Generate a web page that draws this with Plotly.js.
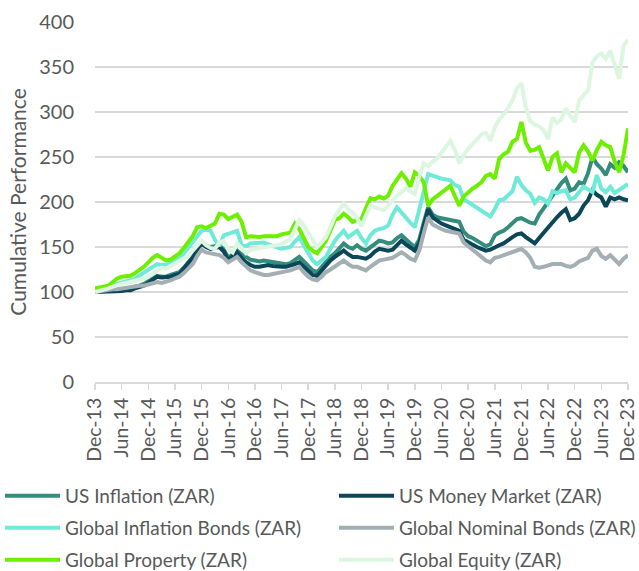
<!DOCTYPE html>
<html>
<head>
<meta charset="utf-8">
<script src="https://cdn.plot.ly/plotly-3.0.1.min.js"></script>
<style>html,body{margin:0;padding:0;background:#fff;}#chart{width:639px;height:571px;}</style>
</head>
<body>
<div id="chart"></div>
<script>
// Monthly categories Dec-13 .. Dec-23
var monthNames = ["Jan","Feb","Mar","Apr","May","Jun","Jul","Aug","Sep","Oct","Nov","Dec"];
var months = [];
for (var i = 0; i <= 120; i++) {
  var mi = (11 + i) % 12;
  var yr = 13 + Math.floor((11 + i) / 12);
  months.push(monthNames[mi] + "-" + yr);
}
var tickLabels = ["Dec-13","Jun-14","Dec-14","Jun-15","Dec-15","Jun-16","Dec-16","Jun-17","Dec-17","Jun-18","Dec-18","Jun-19","Dec-19","Jun-20","Dec-20","Jun-21","Dec-21","Jun-22","Dec-22","Jun-23","Dec-23"];

var usInflation = [100,101,101,101,102,102,103,103,104,105,107,109,112,116,118,117,117,119,121,122,127,133,139,148,155,151,150,151,152,147,138,142,146,142,139,136,135,134,135,134,133,132,131,131,132,136,139,134,129,124,122,128,134,139,143,148,154,150,148,152,148,146,150,154,157,156,154,155,160,163,158,154,150,158,177,194,186,183,182,181,180,179,178,167,162,160,157,155,151,153,163,166,168,172,176,181,182,179,177,176,186,193,200,208,215,221,226,213,215,222,220,232,250,242,237,230,242,238,244,240,233];
var usMoneyMarket = [100,100,100,100,101,101,101,102,102,104,105,107,110,114,117,116,116,117,119,120,126,132,138,146,154,150,148,149,150,145,135,140,144,138,133,130,128,128,129,130,129,128,128,128,129,131,133,128,123,119,118,124,130,135,139,143,146,142,139,139,138,137,140,145,148,147,146,147,152,157,153,149,146,154,173,192,183,179,176,174,172,170,168,158,155,153,150,148,146,147,150,152,154,158,161,164,165,161,157,154,160,166,172,178,183,188,192,180,182,187,196,202,213,208,205,195,205,203,205,203,202];
var globalInflationBonds = [100,103,104,105,107,109,110,112,113,115,118,121,125,128,131,130,130,133,136,138,143,149,155,162,168,169,168,158,151,163,165,166,168,152,151,154,154,155,155,153,151,149,148,149,150,156,161,152,143,135,131,135,139,148,157,163,168,161,164,168,160,154,163,168,170,171,174,186,194,188,183,177,172,190,211,231,229,227,226,225,224,219,217,203,200,197,194,191,188,184,192,202,203,207,212,228,219,213,209,199,205,203,198,212,210,212,213,203,205,211,217,214,211,230,215,211,217,210,213,217,220];
var globalNominalBonds = [100,101,101,102,103,103,104,105,105,106,107,107,108,110,111,110,111,113,115,117,121,126,131,140,147,144,143,142,141,138,133,136,139,133,128,124,122,120,119,119,120,120,121,122,124,126,128,122,117,114,113,117,122,125,128,132,135,131,128,128,126,124,128,132,135,136,137,138,141,144,141,137,135,146,165,183,175,172,170,168,167,166,165,155,151,148,143,139,135,133,138,139,141,143,145,147,148,144,138,128,127,128,130,131,131,131,129,128,130,134,136,138,146,148,140,137,141,136,131,137,141];
var globalProperty = [104,105,106,107,111,115,117,118,118,121,124,128,133,138,141,138,135,136,139,143,149,155,162,172,173,171,174,176,187,186,181,183,186,178,161,162,161,161,162,162,163,162,164,165,166,176,170,160,150,146,143,150,157,168,180,182,187,183,178,180,181,193,204,203,206,204,207,218,226,232,226,217,233,229,222,196,203,207,211,214,218,207,196,206,211,215,218,222,229,231,226,248,253,256,267,270,289,266,257,258,261,248,235,250,254,233,243,238,233,255,263,256,246,258,267,263,261,245,233,252,282];
var globalEquity = [100,101,102,104,106,108,109,110,111,112,114,115,117,120,124,127,126,129,132,134,137,140,146,152,157,152,149,148,155,157,148,144,154,149,143,147,148,148,150,150,151,152,153,156,159,170,180,174,166,156,150,155,161,172,184,191,198,192,188,182,173,185,196,194,192,191,196,202,207,211,215,212,209,228,243,240,245,248,255,262,268,258,243,252,259,264,270,275,277,268,283,292,297,305,313,326,332,305,290,286,284,280,270,294,288,292,304,296,289,313,318,324,355,362,365,359,368,352,337,374,380];

var seriesNames = ["US Inflation (ZAR)","US Money Market (ZAR)","Global Inflation Bonds (ZAR)","Global Nominal Bonds (ZAR)","Global Property (ZAR)","Global Equity (ZAR)"];
var seriesData = [usInflation, usMoneyMarket, globalInflationBonds, globalNominalBonds, globalProperty, globalEquity];
var seriesColors = ["#348C7D","#0B4659","#6FEAD9","#A3AFB2","#6CF000","#DCF6E1"];
var legendIds = ["legend","legend2","legend3","legend4","legend5","legend6"];

var traces = seriesData.map(function(d, k) {
  return {
    x: months, y: d, name: seriesNames[k], type: "scatter", mode: "lines",
    legend: legendIds[k],
    line: {color: seriesColors[k], width: 4, shape: "linear"}
  };
});

var fontFam = "Lato, 'Liberation Sans', sans-serif";
function mkLegend(xpx, ypx) {
  return {
    orientation: "h",
    xref: "container", yref: "container",
    x: xpx / 639, xanchor: "left",
    y: 1 - ypx / 571, yanchor: "middle",
    font: {size: 19, color: "#595959", family: fontFam},
    bgcolor: "rgba(0,0,0,0)",
    itemwidth: 55
  };
}
var layout = {
  width: 639, height: 571,
  margin: {l: 95, r: 11, t: 22, b: 189},
  paper_bgcolor: "#ffffff", plot_bgcolor: "#ffffff",
  showlegend: true,
  font: {family: fontFam, color: "#595959"},
  xaxis: {
    type: "category",
    range: [0, 120],
    tickvals: tickLabels,
    ticktext: tickLabels,
    tickangle: -90,
    tickfont: {size: 19.5, color: "#595959", family: fontFam},
    ticks: "outside", ticklen: 6, tickwidth: 1.5, tickcolor: "#d9d9d9",
    showline: true, linecolor: "#d9d9d9", linewidth: 2,
    showgrid: false, zeroline: false
  },
  yaxis: {
    range: [0, 400],
    tickvals: [0,50,100,150,200,250,300,350,400],
    tickfont: {size: 20, color: "#595959", family: fontFam},
    ticklabelstandoff: 20,
    showgrid: true, gridcolor: "#d9d9d9", gridwidth: 1.5,
    showline: false, zeroline: false,
    title: {text: "Cumulative Performance", font: {size: 21, color: "#595959", family: fontFam}, standoff: 6}
  },
  legend: mkLegend(-7, 496),
  legend2: mkLegend(334, 496),
  legend3: mkLegend(-7, 528),
  legend4: mkLegend(334, 528),
  legend5: mkLegend(-7, 560),
  legend6: mkLegend(334, 560)
};

Plotly.newPlot("chart", traces, layout, {displayModeBar: false, staticPlot: true});
</script>
</body>
</html>
